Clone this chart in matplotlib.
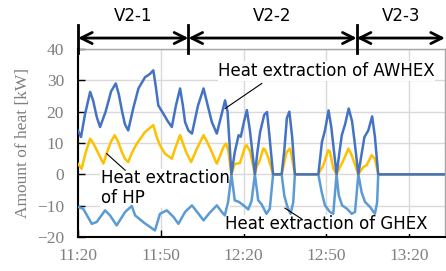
import matplotlib
matplotlib.use("Agg")
import matplotlib.pyplot as plt

# time in minutes after 11:20, heat in kW
awhex_t = [0, 1.1, 2.5, 4.4, 5.5, 6.8, 8.0, 10.0, 12.0, 13.7, 14.8, 15.9, 17.0, 18.2, 20.0, 21.9,
           24.3, 26.0, 27.3, 28.2, 29.1, 30.9, 32.5, 34.0, 35.5, 37.0, 38.0, 38.8, 40.0, 41.3,
           43.5, 45.5, 47.0, 48.5, 50.3, 52.0, 53.3, 54.2, 55.6, 56.8, 58.2, 59.0, 60.2, 61.2,
           62.3, 64.1, 65.0, 66.0, 67.5, 68.5, 69.3, 70.7, 73.8, 74.8, 75.7, 76.6, 77.6, 78.6,
           87.1, 88.4, 89.5, 90.8, 91.8, 93.7, 94.6, 95.6, 96.8, 98.1, 99.3, 100.3, 101.6,
           102.5, 103.8, 105.2, 106.6, 107.6, 108.8, 133]
awhex_v = [14.0, 11.9, 19.0, 26.3, 23.5, 18.3, 15.1, 20.0, 26.5, 29.0, 25.5, 20.4, 16.0, 14.0, 21.0, 27.4,
           31.0, 32.0, 33.2, 28.0, 22.0, 19.4, 17.0, 15.1, 22.0, 27.4, 22.0, 16.7, 14.0, 13.0,
           22.0, 27.4, 22.0, 16.7, 13.0, 19.0, 23.6, 20.0, 0.0, 7.0, 12.5, 12.0, 17.0, 20.5,
           14.0, 0.0, 7.0, 13.5, 19.0, 19.9, 13.0, 0.0, 0.0, 8.0, 18.0, 20.0, 12.0, 0.0,
           0.0, 10.3, 14.0, 20.4, 15.0, 0.0, 6.0, 12.5, 16.0, 21.0, 17.0, 10.0, 0.0,
           5.0, 11.9, 14.0, 18.5, 12.0, 0.0, 0.0]

hp_t = [0, 1.3, 2.8, 4.4, 5.5, 6.8, 8.3, 9.2, 10.4, 12.0, 13.3, 14.5, 15.9, 17.0, 18.2, 19.6,
        21.3, 24.3, 27.3, 28.5, 29.7, 31.5, 34.0, 35.5, 37.0, 38.0, 39.2, 41.0, 43.0, 45.5,
        47.0, 48.5, 50.3, 52.7, 53.6, 54.4, 55.6, 56.8, 58.7, 60.5, 61.1, 62.3, 64.1, 64.7,
        65.9, 67.1, 67.7, 68.9, 70.7, 73.8, 75.6, 76.8, 77.4, 78.6, 87.1, 87.7, 88.9, 90.7,
        91.3, 92.5, 93.7, 94.9, 96.1, 98.0, 99.2, 100.4, 101.6, 103.4, 104.6, 106.4, 107.6,
        108.8, 133]
hp_v = [3.4, 1.8, 7.0, 11.4, 10.0, 7.7, 5.0, 3.4, 6.8, 10.5, 12.5, 10.5, 7.1, 5.0, 3.9, 7.0,
        9.8, 13.5, 15.7, 12.0, 9.3, 6.6, 5.0, 9.0, 12.5, 10.0, 7.1, 3.9, 8.0, 12.5,
        10.0, 7.1, 3.4, 8.7, 9.8, 8.0, 0.0, 3.3, 3.6, 8.7, 9.3, 7.5, 0.0, 2.3,
        4.5, 8.2, 8.0, 5.5, 0.0, 0.0, 7.1, 8.2, 6.0, 0.0, 0.0, 1.0, 2.9, 7.7,
        7.2, 2.0, 0.0, 2.3, 4.3, 8.2, 6.1, 3.0, 0.0, 2.3, 2.9, 6.1, 5.0,
        0.0, 0.0]

ghex_t = [0, 1.9, 5.0, 6.8, 9.8, 11.6, 14.0, 17.1, 19.5, 20.7, 24.0, 27.9, 29.7, 32.2, 34.6, 36.4,
          38.8, 41.3, 43.6, 45.5, 47.5, 50.3, 52.1, 53.2, 54.4, 55.6, 56.8, 58.3, 60.0, 61.7,
          62.9, 64.1, 65.3, 66.5, 68.3, 69.5, 70.7, 73.8, 74.8, 75.9, 77.0, 78.0, 78.6, 87.1,
          88.3, 89.5, 91.3, 92.5, 93.7, 94.5, 95.7, 97.5, 99.2, 100.4, 101.6, 102.8, 104.0,
          105.8, 107.6, 108.4, 108.8, 133]
ghex_v = [-10.4, -11.0, -15.8, -15.2, -11.5, -13.1, -16.3, -12.0, -10.1, -13.1, -15.5, -17.9, -12.6, -11.5, -13.6, -15.8,
          -12.0, -9.9, -12.5, -14.7, -12.5, -9.9, -12.0, -13.1, -8.8, 0.0, -8.3, -8.8, -9.9, -11.2,
          -8.5, 0.0, -8.3, -9.5, -12.6, -11.0, 0.0, 0.0, -7.0, -10.4, -12.6, -9.0, 0.0, 0.0,
          -5.6, -9.9, -12.0, -12.6, 0.0, -6.7, -9.9, -11.0, -12.6, -12.0, 0.0, -5.8, -8.8,
          -10.4, -12.6, -9.0, 0.0, 0.0]

tick_pos = [0, 30, 60, 90, 120]
tick_labels = ["11:20", "11:50", "12:20", "12:50", "13:20"]
phase_names = ["V2-1", "V2-2", "V2-3"]
phase_edges = [0, 40, 101, 133]

fig = plt.figure(figsize=(4.46, 2.71), dpi=100)
ax = fig.add_axes([78 / 446, 34 / 271, 367 / 446, 188 / 271])

line_kw = dict(lw=1.8, zorder=3, solid_joinstyle="round", solid_capstyle="round")
ax.plot(ghex_t, ghex_v, color="#5B9BD5", **line_kw)
ax.plot(hp_t, hp_v, color="#FFC000", **line_kw)
ax.plot(awhex_t, awhex_v, color="#4472C4", **line_kw)

ax.set_xlim(0, 133)
ax.set_ylim(-20, 40)
ax.set_xticks(tick_pos)
ax.set_xticklabels(tick_labels)
ax.set_yticks(range(-20, 41, 10))
ax.grid(True, color="#D9D9D9", lw=1, zorder=0)
ax.set_axisbelow(True)

for lab in ax.get_xticklabels() + ax.get_yticklabels():
    lab.set_fontfamily("Liberation Serif")
    lab.set_fontsize(12.5)
    lab.set_color("#7F7F7F")
ax.tick_params(axis="both", direction="in", length=5, width=1, color="black")
ax.tick_params(axis="x", pad=8)
ax.tick_params(axis="y", pad=10)
ax.set_ylabel("Amount of heat [kW]", family="Liberation Serif", fontsize=12.5,
              color="#7F7F7F", labelpad=4)

for s in ["left", "bottom"]:
    ax.spines[s].set_linewidth(1.5)
    ax.spines[s].set_color("black")
for s in ["top", "right"]:
    ax.spines[s].set_linewidth(1)
    ax.spines[s].set_color("#A6A6A6")

# phase arrows above the plot
for i, name in enumerate(phase_names):
    a, b = phase_edges[i], phase_edges[i + 1]
    ax.annotate("", xy=(b, 43.5), xytext=(a, 43.5), annotation_clip=False,
                arrowprops=dict(arrowstyle="<->", lw=2, color="black",
                                mutation_scale=20, shrinkA=0, shrinkB=0))
    ax.text((a + b) / 2, 50.5, name, ha="center", va="center", fontsize=12,
            clip_on=False)
for e in phase_edges[:3]:
    ax.plot([e, e], [38.7, 47.6], color="black", lw=2, clip_on=False, zorder=5)

# labels with leader lines
box = dict(facecolor="white", edgecolor="none", pad=0.5)
ax.text(50.8, 33, "Heat extraction of AWHEX", ha="left", va="center", fontsize=12,
        bbox=box, zorder=2.5)
ax.plot([66.6, 53.3], [29, 21], color="black", lw=0.8, zorder=4)
ax.text(8.3, -4.5, "Heat extraction\nof HP", ha="left", va="center", fontsize=12,
        linespacing=1.15, bbox=box, zorder=2.5)
ax.plot([10.4, 17.1], [6.6, 1.3], color="black", lw=0.8, zorder=4)
ax.text(53.2, -16, "Heat extraction of GHEX", ha="left", va="center", fontsize=12,
        bbox=box, zorder=2.5)
ax.plot([75, 81], [-10.8, -14.2], color="black", lw=0.8, zorder=4)

fig.savefig("out.png", dpi=100)
